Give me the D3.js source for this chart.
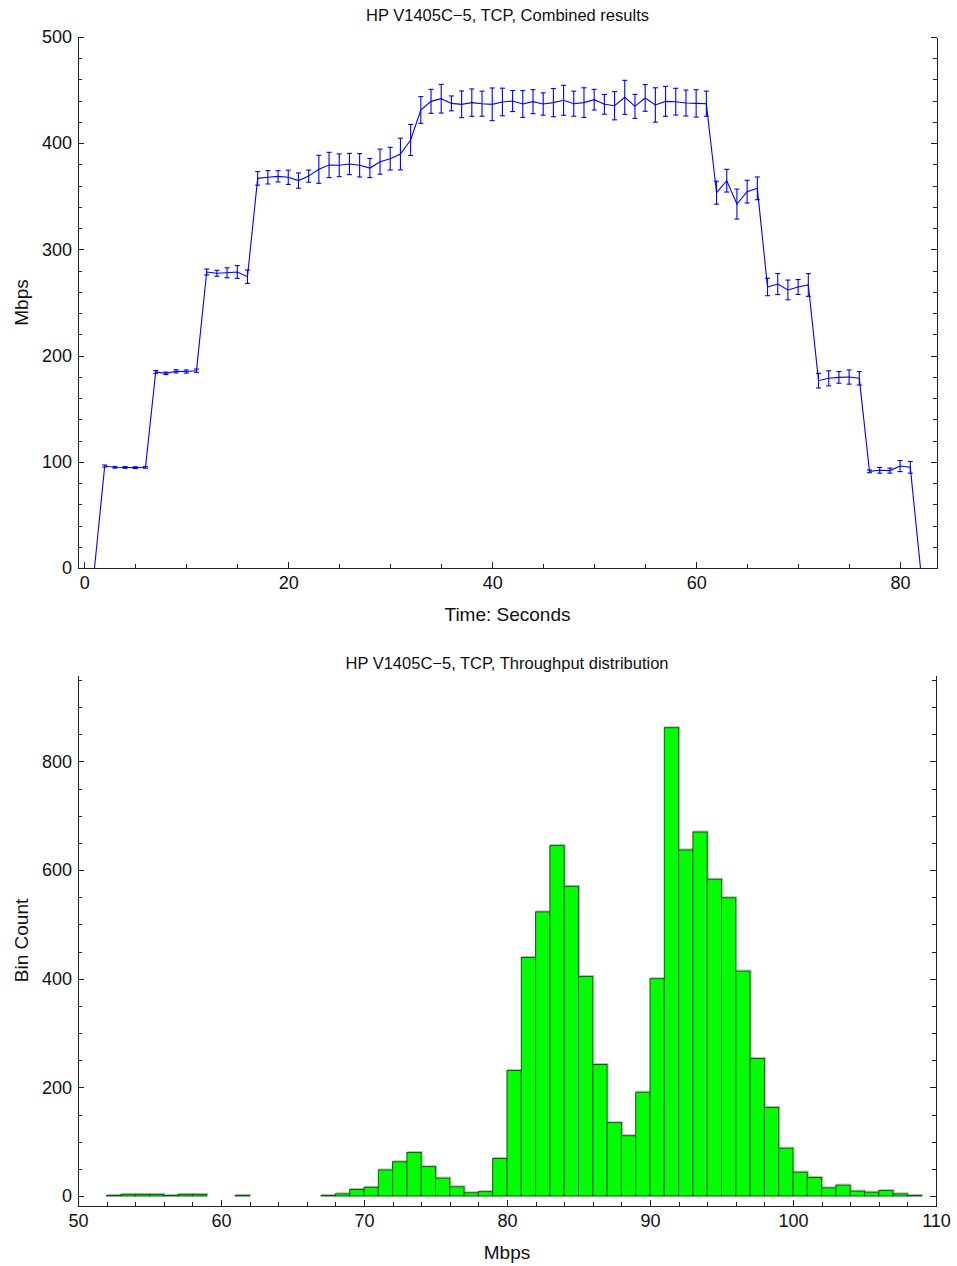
<!DOCTYPE html>
<html>
<head>
<meta charset="utf-8">
<script src="https://d3js.org/d3.v7.min.js"></script>
<style>
body { margin: 0; background: #fff; }
svg { display: block; font-family: "Liberation Sans", Arial, sans-serif; }
.axis path, .axis line { stroke: #222; stroke-width: 1; shape-rendering: crispEdges; }
.axis text { font-size: 18px; fill: #111; }
.title { font-size: 16.5px; fill: #111; }
.label { font-size: 19px; fill: #111; }
</style>
</head>
<body>
<svg id="chart" width="957" height="1266"></svg>
<script>
// top chart: per-second throughput, mean and error
var seconds = [1,2,3,4,5,6,7,8,9,10,11,12,13,14,15,16,17,18,19,20,
  21,22,23,24,25,26,27,28,29,30,31,32,33,34,35,36,37,38,39,40,
  41,42,43,44,45,46,47,48,49,50,51,52,53,54,55,56,57,58,59,60,
  61,62,63,64,65,66,67,68,69,70,71,72,73,74,75,76,77,78,79,80,81,82];
var meanMbps = [0,96,94.8,94.7,94.5,94.8,184.6,183.3,185.2,185,185.8,278.7,277.5,278,278.7,274.3,
  366.9,367.9,368.8,367.9,364.8,369,375.4,379.5,379.2,380.4,379.2,376.6,382.6,385.4,389.8,403,
  431.3,439.4,441.9,437.5,436.6,438.2,437.2,436.6,438.8,439.7,436.9,439.1,436.9,438.2,440.4,437.2,
  438.2,441,436.6,435.3,443.2,434.7,442.6,436,439.4,439.1,437.8,437.5,437.2,
  353.4,364.7,342.7,354.4,357.5,264.6,267.4,261.8,264.6,266.5,176.4,178.6,179.5,179.8,178.6,
  91,92,91.7,96,94.8,0];
var errMbps = [0,1,0.8,0.8,0.8,0.8,1.3,1.2,1.5,1.5,1.5,2.8,2.8,4.7,6,6.3,
  6.4,6.3,5.3,6.7,7.2,5.7,13.2,11.9,10.7,10,11,9,11.8,10.7,14.9,14.6,
  12.6,11.3,13.5,7,12.6,12.9,11.8,15.4,13,9.9,12.6,11.3,10.5,13.3,14.1,11.8,
  14,9.7,9.3,13.3,16,11.3,12.6,16.2,14.1,12.6,12.2,12.9,11.8,
  10.8,10.7,14.1,10.7,10.7,8.2,9.9,9.3,7,10.7,6.9,7.1,5.5,6.7,6.3,
  1.3,2.7,2.4,5.2,5.5,0];

// bottom chart: histogram, 1 Mbps bins (left edge) and counts
var binStart = [52,53,54,55,56,57,58,61,67,68,69,70,71,72,73,74,75,76,77,78,79,
  80,81,82,83,84,85,86,87,88,89,90,91,92,93,94,95,96,97,98,99,
  100,101,102,103,104,105,106,107,108];
var binCount = [1,3,3,3,1,3,3,1,1,4,12,16,48,63,80,54,33,17,6,8,69,
  231,439,523,645,570,404,242,135,111,191,400,862,637,670,583,549,414,253,163,88,
  44,34,15,20,9,7,10,4,1];

var topTitle = "HP V1405C\u22125, TCP, Combined results";
var histTitle = "HP V1405C\u22125, TCP, Throughput distribution";

var svg = d3.select("#chart");

function frame(g, x, y, xMajor, xMinor, yMajor, yMinor, left, right, top, bottom) {
    // bottom axis
    g.append("g").attr("class", "axis")
        .attr("transform", "translate(0," + bottom + ")")
        .call(d3.axisBottom(x).tickValues(xMinor).tickFormat("").tickSizeInner(-4).tickSizeOuter(0));
    g.append("g").attr("class", "axis")
        .attr("transform", "translate(0," + bottom + ")")
        .call(d3.axisBottom(x).tickValues(xMajor).tickFormat(d3.format("d")).tickSizeInner(-6).tickSizeOuter(0).tickPadding(8));
    // left axis
    g.append("g").attr("class", "axis")
        .attr("transform", "translate(" + left + ",0)")
        .call(d3.axisLeft(y).tickValues(yMinor).tickFormat("").tickSizeInner(-4).tickSizeOuter(0));
    g.append("g").attr("class", "axis")
        .attr("transform", "translate(" + left + ",0)")
        .call(d3.axisLeft(y).tickValues(yMajor).tickFormat(d3.format("d")).tickSizeInner(-6).tickSizeOuter(0).tickPadding(6));
    // right axis, no labels
    g.append("g").attr("class", "axis")
        .attr("transform", "translate(" + right + ",0)")
        .call(d3.axisRight(y).tickValues(yMinor).tickFormat("").tickSizeInner(-4).tickSizeOuter(0));
    g.append("g").attr("class", "axis")
        .attr("transform", "translate(" + right + ",0)")
        .call(d3.axisRight(y).tickValues(yMajor).tickFormat("").tickSizeInner(-6).tickSizeOuter(0));
}

// ---------- top chart ----------
var L1 = 78, R1 = 937, T1 = 37, B1 = 568;
var x1 = d3.scaleLinear().domain([-0.62, 83.62]).range([L1, R1]);
var y1 = d3.scaleLinear().domain([0, 500]).range([B1, T1]);

var g1 = svg.append("g");

var pts = seconds.map(function(t, i) { return { t: t, m: meanMbps[i], e: errMbps[i] }; });

g1.append("path")
    .datum(pts)
    .attr("fill", "none")
    .attr("stroke", "#0000ff")
    .attr("stroke-width", 1.1)
    .attr("d", d3.line().x(function(d) { return x1(d.t); }).y(function(d) { return y1(d.m); }));

var eb = g1.append("g").attr("stroke", "#0000ff").attr("stroke-width", 1.1)
    .selectAll("g")
    .data(pts.filter(function(d) { return d.e > 0; }))
    .enter().append("g");
eb.append("line")
    .attr("x1", function(d) { return x1(d.t); })
    .attr("x2", function(d) { return x1(d.t); })
    .attr("y1", function(d) { return y1(d.m - d.e); })
    .attr("y2", function(d) { return y1(d.m + d.e); });
eb.append("line")
    .attr("x1", function(d) { return x1(d.t) - 2.5; })
    .attr("x2", function(d) { return x1(d.t) + 2.5; })
    .attr("y1", function(d) { return y1(d.m - d.e); })
    .attr("y2", function(d) { return y1(d.m - d.e); });
eb.append("line")
    .attr("x1", function(d) { return x1(d.t) - 2.5; })
    .attr("x2", function(d) { return x1(d.t) + 2.5; })
    .attr("y1", function(d) { return y1(d.m + d.e); })
    .attr("y2", function(d) { return y1(d.m + d.e); });

frame(g1, x1, y1, [0, 20, 40, 60, 80], d3.range(0, 84, 5), [0, 100, 200, 300, 400, 500], d3.range(0, 501, 20), L1, R1, T1, B1);

g1.append("text").attr("class", "title")
    .attr("x", (L1 + R1) / 2).attr("y", 21).attr("text-anchor", "middle")
    .text(topTitle);
g1.append("text").attr("class", "label")
    .attr("x", (L1 + R1) / 2).attr("y", 621).attr("text-anchor", "middle")
    .text("Time: Seconds");
g1.append("text").attr("class", "label")
    .attr("transform", "translate(28," + ((T1 + B1) / 2) + ") rotate(-90)")
    .attr("text-anchor", "middle")
    .text("Mbps");

// ---------- histogram ----------
var L2 = 78, R2 = 936, T2 = 675, B2 = 1206;
var x2 = d3.scaleLinear().domain([50, 110]).range([L2, R2]);
var y2 = d3.scaleLinear().domain([-18.4, 959]).range([B2, T2]);

var g2 = svg.append("g");
var bins = binStart.map(function(b, i) { return { x0: b, x1: b + 1, n: binCount[i] }; });

// faint shadow like the original edge rendering
g2.append("g").selectAll("rect")
    .data(bins).enter().append("rect")
    .attr("x", function(d) { return x2(d.x0) + 1; })
    .attr("y", function(d) { return y2(d.n) - 1; })
    .attr("width", function(d) { return x2(d.x1) - x2(d.x0); })
    .attr("height", function(d) { return y2(0) - y2(d.n); })
    .attr("fill", "none")
    .attr("stroke", "#bbb")
    .attr("stroke-width", 1);

g2.append("g").selectAll("rect")
    .data(bins).enter().append("rect")
    .attr("x", function(d) { return x2(d.x0); })
    .attr("y", function(d) { return y2(d.n); })
    .attr("width", function(d) { return x2(d.x1) - x2(d.x0); })
    .attr("height", function(d) { return Math.max(0.5, y2(0) - y2(d.n)); })
    .attr("fill", "#00ff00")
    .attr("stroke", "#0b5a0b")
    .attr("stroke-width", 1);

frame(g2, x2, y2, [50, 60, 70, 80, 90, 100, 110], d3.range(50, 111, 2), [0, 200, 400, 600, 800], d3.range(0, 951, 50), L2, R2, T2, B2);

g2.append("text").attr("class", "title")
    .attr("x", (L2 + R2) / 2).attr("y", 669).attr("text-anchor", "middle")
    .text(histTitle);
g2.append("text").attr("class", "label")
    .attr("x", (L2 + R2) / 2).attr("y", 1259).attr("text-anchor", "middle")
    .text("Mbps");
g2.append("text").attr("class", "label")
    .attr("transform", "translate(28," + ((T2 + B2) / 2) + ") rotate(-90)")
    .attr("text-anchor", "middle")
    .text("Bin Count");
</script>
</body>
</html>
